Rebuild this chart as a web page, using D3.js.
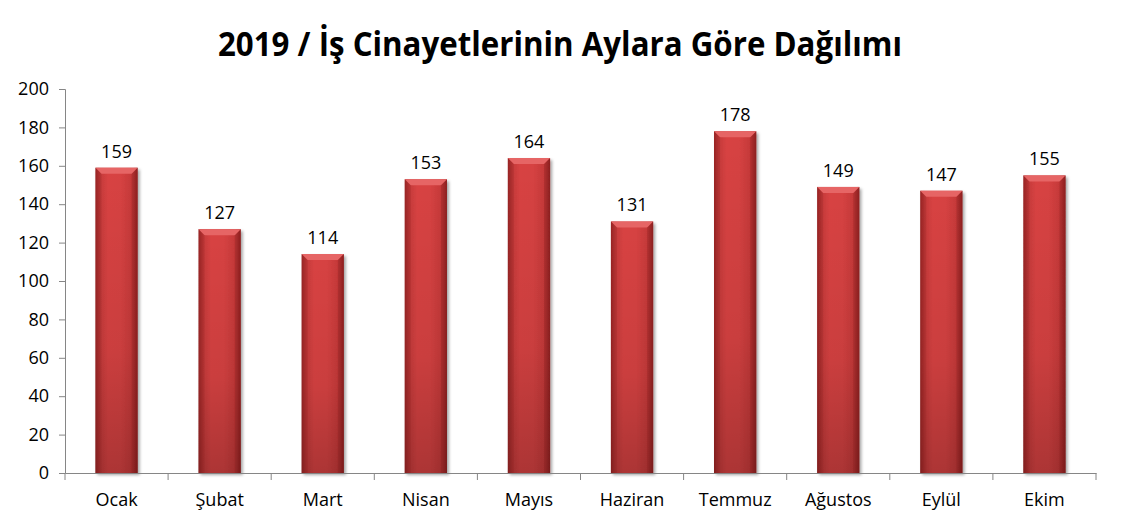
<!DOCTYPE html>
<html><head><meta charset="utf-8">
<script src="https://cdn.jsdelivr.net/npm/d3@7"></script>
<style>body{margin:0;background:#fff}svg{display:block}text{font-family:"Open Sans",sans-serif}</style>
</head><body><svg id="c" width="1121" height="527"></svg>
<script>
const months = ["Ocak","Şubat","Mart","Nisan","Mayıs","Haziran","Temmuz","Ağustos","Eylül","Ekim"];
const values = [159,127,114,153,164,131,178,149,147,155];
const yTicks = [0,20,40,60,80,100,120,140,160,180,200];
const title = "2019 / İş Cinayetlerinin Aylara Göre Dağılımı";

const svg = d3.select("#c");
const L=65, R=1096, T=89, B=473;
const x = d3.scaleBand().domain(months).range([L,R]).paddingInner(0.59).paddingOuter(0.295);
const y = d3.scaleLinear().domain([0,200]).range([B,T]);

const defs = svg.append("defs");
const gh = defs.append("linearGradient").attr("id","gh").attr("x1","0").attr("x2","1").attr("y1","0").attr("y2","0");
[[0,"#9c2626"],[0.12,"#c63a3a"],[0.3,"#d84343"],[0.6,"#d64242"],[0.88,"#c43838"],[1,"#952222"]].forEach(([o,c])=>gh.append("stop").attr("offset",o).attr("stop-color",c));
const gv = defs.append("linearGradient").attr("id","gv").attr("x1","0").attr("x2","0").attr("y1","0").attr("y2","1");
[[0,"#000",0],[0.6,"#000",0.06],[1,"#000",0.2]].forEach(([o,c,a])=>gv.append("stop").attr("offset",o).attr("stop-color",c).attr("stop-opacity",a));
const f = defs.append("filter").attr("id","sh").attr("x","-20%").attr("y","-5%").attr("width","150%").attr("height","115%");
f.append("feDropShadow").attr("dx",2).attr("dy",2).attr("stdDeviation",1.8).attr("flood-color","#000").attr("flood-opacity",0.35);

svg.append("text").attr("x",560).attr("y",56).attr("text-anchor","middle")
  .attr("textLength",684).attr("lengthAdjust","spacingAndGlyphs")
  .style("font-size","34px").style("font-weight","bold").attr("fill","#000").text(title);

// axes
const axisColor = "#868686";
const ya = svg.append("g").attr("transform",`translate(${L},0)`)
  .call(d3.axisLeft(y).tickValues(yTicks).tickSize(6).tickPadding(10));
ya.select(".domain").attr("stroke",axisColor);
ya.selectAll(".tick line").attr("stroke",axisColor);
ya.selectAll(".tick text").style("font-size","18px").attr("fill","#000");

const bars = svg.append("g");
months.forEach((m,i)=>{
  const x0 = x(m), w = x.bandwidth(), y0 = y(values[i]), h = B - y0;
  const g = bars.append("g");
  g.append("rect").attr("x",x0).attr("y",y0).attr("width",w).attr("height",h).attr("fill","url(#gh)").attr("filter","url(#sh)");
  g.append("rect").attr("x",x0).attr("y",y0).attr("width",w).attr("height",h).attr("fill","url(#gv)");
  const bv = 6;
  g.append("path").attr("d",`M${x0},${y0}L${x0+w},${y0}L${x0+w-bv},${y0+bv}L${x0+bv},${y0+bv}Z`).attr("fill","#e66565");
  g.append("path").attr("d",`M${x0},${y0}L${x0+bv},${y0+bv}L${x0+bv},${B}L${x0},${B}Z`).attr("fill","#8a1f1f").attr("opacity",0.25);
  g.append("path").attr("d",`M${x0+w},${y0}L${x0+w-bv},${y0+bv}L${x0+w-bv},${B}L${x0+w},${B}Z`).attr("fill","#7a1a1a").attr("opacity",0.3);
  svg.append("text").attr("x",x0+w/2).attr("y",y0-10).attr("text-anchor","middle")
    .style("font-size","18px").attr("fill","#000").text(values[i]);
});

const xa = svg.append("g").attr("transform",`translate(0,${B})`)
  .call(d3.axisBottom(x).tickSize(0).tickPadding(20));
xa.select(".domain").attr("stroke",axisColor);
xa.selectAll(".tick text").style("font-size","18px").attr("fill","#000");
const sep = d3.range(months.length+1).map(i=>L+i*(R-L)/months.length);
svg.append("g").selectAll("line").data(sep).join("line")
  .attr("x1",d=>d).attr("x2",d=>d).attr("y1",B).attr("y2",B+7).attr("stroke",axisColor);
</script></body></html>
